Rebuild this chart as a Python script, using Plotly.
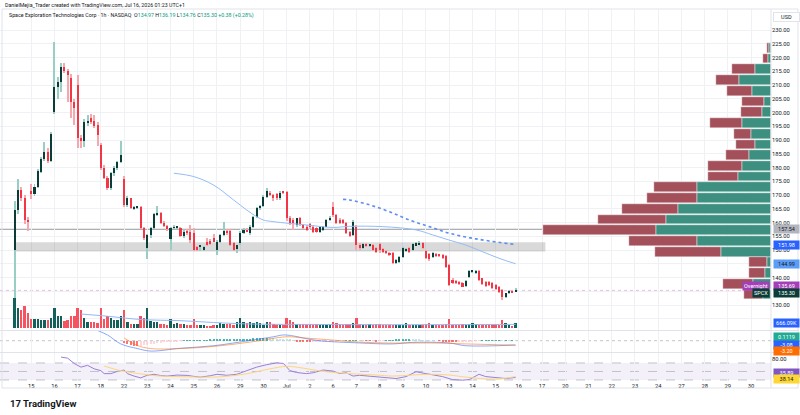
import plotly.graph_objects as go

W, H = 800, 415
PLOT_R = 771
GRID = "#eff1f4"

day_labels = ["15", "16", "17", "18", "22", "23", "24", "25", "26", "29", "30", "Jul", "2", "6", "7",
              "8", "9", "10", "13", "14", "15", "16", "17", "20", "21", "22", "23", "24", "27", "28",
              "29", "30"]

opens = [150.0, 164.5, 171.8, 169.0, 161.0, 171.5, 170.3, 173.0, 178.5, 183.0,
         185.7, 182.5, 200.3, 209.4, 211.0, 216.4, 215.0, 212.7, 204.0, 210.0,
         190.6, 189.5, 196.4, 198.0, 197.0, 195.5, 188.2, 180.0, 176.3, 172.7,
         177.9, 179.7, 181.9, 176.0, 166.4, 168.8, 165.2, 165.3, 165.6, 158.1,
         150.6, 155.5, 157.9, 163.0, 163.5, 160.0, 158.7, 154.0, 158.0, 158.2,
         157.9, 155.1, 157.0, 156.7, 156.1, 151.0, 151.0, 150.0, 153.0, 153.3,
         154.2, 150.0, 153.0, 155.5, 157.0, 157.0, 152.5, 150.5, 152.7, 156.3,
         157.3, 156.1, 158.5, 162.1, 165.2, 166.0, 169.4, 170.8, 170.0, 170.4,
         168.8, 171.1, 171.2, 161.5, 160.9, 159.1, 161.5, 159.1, 158.5, 159.6,
         158.5, 157.9, 156.7, 157.3, 158.5, 160.9, 165.5, 162.7, 160.8, 160.9,
         159.9, 156.7, 155.5, 158.5, 151.8, 150.6, 152.1, 151.5, 151.9, 150.6,
         152.1, 150.3, 149.6, 149.0, 148.8, 145.2, 145.7, 147.6, 149.8, 150.6,
         150.0, 151.8, 152.1, 152.4, 149.6, 148.4, 147.6, 148.4, 148.2, 148.2,
         147.9, 144.5, 139.1, 138.7, 138.3, 137.9, 137.0, 140.3, 142.0, 141.8,
         142.4, 139.7, 138.3, 138.3, 137.9, 137.3, 136.7, 135.5, 133.0, 134.2,
         135.1, 134.97]
highs = [168.0, 176.0, 173.0, 170.0, 162.0, 174.0, 174.0, 179.5, 184.0, 189.4,
         187.0, 193.0, 225.8, 213.0, 218.0, 218.0, 216.0, 214.0, 205.0, 213.6,
         192.0, 197.5, 199.0, 199.5, 199.0, 196.5, 189.0, 181.0, 177.0, 178.5,
         180.5, 182.5, 189.6, 177.0, 169.5, 169.0, 166.0, 166.0, 166.0, 158.5,
         156.0, 158.5, 163.5, 166.0, 164.0, 160.5, 159.0, 158.5, 159.0, 158.8,
         158.5, 157.5, 157.5, 159.0, 158.0, 151.5, 152.0, 151.3, 154.5, 154.0,
         156.0, 153.5, 155.8, 160.3, 157.5, 157.5, 153.0, 152.0, 156.8, 158.0,
         158.0, 159.0, 162.5, 165.5, 166.5, 170.0, 172.4, 171.5, 170.3, 170.8,
         171.3, 171.5, 171.5, 162.5, 161.5, 161.8, 162.0, 159.6, 159.0, 160.0,
         159.0, 158.3, 158.6, 158.9, 161.3, 162.2, 167.6, 163.0, 161.5, 161.2,
         160.3, 157.0, 161.0, 159.0, 152.5, 152.5, 152.4, 152.2, 152.3, 151.0,
         152.5, 150.8, 150.0, 149.4, 149.2, 146.8, 148.0, 151.0, 150.8, 151.0,
         152.4, 152.8, 153.3, 152.8, 150.0, 148.8, 149.2, 148.8, 148.6, 148.5,
         148.2, 145.0, 140.0, 139.2, 138.8, 138.3, 139.0, 142.6, 142.6, 142.6,
         142.8, 140.0, 138.6, 138.6, 138.2, 137.6, 137.0, 135.8, 134.5, 135.6,
         135.4, 136.19]
lows = [124.0, 163.0, 168.0, 159.5, 157.0, 168.5, 169.5, 172.5, 178.0, 182.5,
        181.5, 182.0, 199.5, 205.0, 207.6, 214.5, 204.0, 198.0, 195.5, 187.0,
        187.0, 187.5, 195.0, 196.0, 194.5, 188.0, 179.0, 176.0, 172.0, 172.0,
        177.0, 179.0, 181.5, 165.5, 165.8, 164.8, 164.6, 164.8, 157.5, 153.5,
        146.7, 154.5, 157.5, 162.5, 159.5, 158.3, 157.0, 150.0, 157.5, 157.6,
        154.8, 154.5, 155.5, 152.5, 149.5, 149.5, 149.5, 149.5, 151.5, 152.0,
        153.0, 148.2, 152.5, 155.0, 155.5, 151.5, 149.5, 149.0, 152.0, 156.0,
        156.5, 155.5, 158.0, 161.5, 164.5, 165.5, 169.0, 169.5, 168.0, 168.3,
        168.3, 170.5, 160.5, 159.0, 157.3, 158.5, 158.8, 157.5, 156.8, 157.8,
        156.3, 156.3, 156.3, 157.0, 158.2, 160.5, 162.0, 159.5, 159.5, 159.3,
        155.8, 154.8, 155.0, 150.0, 150.0, 150.2, 151.0, 151.0, 149.6, 149.0,
        149.0, 149.0, 148.5, 147.9, 144.8, 144.9, 145.3, 147.2, 149.3, 149.0,
        149.6, 151.5, 151.8, 150.3, 146.8, 146.0, 147.2, 147.6, 147.6, 146.9,
        143.6, 136.8, 137.5, 137.5, 137.2, 136.4, 136.6, 140.0, 141.5, 141.3,
        138.8, 137.2, 136.7, 137.0, 135.8, 135.5, 134.5, 131.8, 132.7, 133.9,
        134.3, 134.76]
closes = [164.5, 171.8, 169.0, 161.0, 160.3, 170.5, 173.0, 178.7, 183.0, 185.7,
          182.5, 192.2, 209.4, 211.0, 216.4, 215.0, 213.5, 204.0, 201.8, 190.6,
          189.5, 196.4, 197.0, 196.5, 195.2, 191.8, 180.0, 176.3, 172.7, 177.9,
          179.7, 181.9, 184.5, 166.4, 168.8, 165.2, 165.3, 165.6, 158.1, 154.2,
          155.5, 157.9, 163.0, 163.5, 160.0, 158.7, 157.5, 158.0, 158.2, 158.4,
          155.1, 156.7, 156.1, 153.6, 150.0, 150.0, 151.8, 151.0, 151.8, 152.2,
          153.0, 153.0, 155.5, 157.0, 156.3, 151.8, 150.0, 151.8, 156.3, 157.3,
          156.7, 158.5, 162.1, 165.2, 166.1, 169.4, 171.6, 170.0, 168.8, 168.8,
          170.8, 170.8, 161.5, 159.7, 159.9, 161.5, 159.3, 157.9, 157.3, 158.3,
          156.7, 156.7, 158.2, 158.5, 160.9, 161.8, 162.7, 159.9, 159.9, 159.7,
          156.1, 155.1, 160.3, 151.8, 150.6, 152.1, 151.5, 151.8, 150.0, 149.4,
          150.0, 149.4, 148.8, 148.2, 145.2, 146.4, 147.6, 150.6, 150.4, 149.4,
          152.1, 152.4, 152.7, 150.6, 147.2, 146.7, 148.8, 147.9, 147.9, 147.2,
          143.9, 137.3, 137.9, 137.9, 137.5, 136.7, 138.7, 142.2, 142.4, 142.4,
          139.1, 137.5, 137.0, 137.3, 136.1, 135.8, 134.8, 133.0, 134.2, 135.1,
          134.6, 135.30]
volumes_k = [3900, 2600, 2340, 2860, 1950, 1170, 1170, 1170, 1040, 1040,
             1040, 1300, 2600, 1560, 1560, 910, 1100, 1560, 1560, 2600,
             2340, 1300, 830, 830, 740, 600, 2600, 1170, 1560, 1300,
             1040, 1040, 1560, 2340, 830, 470, 470, 470, 1560, 1300,
             2600, 910, 830, 830, 470, 470, 380, 1210, 470, 600,
             470, 470, 380, 380, 1210, 380, 380, 380, 270, 270,
             380, 380, 600, 470, 470, 470, 380, 740, 1300, 740,
             600, 830, 600, 830, 600, 380, 830, 830, 470, 380,
             380, 380, 1300, 1070, 830, 470, 470, 470, 380, 470,
             380, 380, 380, 380, 380, 380, 830, 600, 470, 380,
             470, 470, 600, 1300, 470, 380, 380, 470, 380, 470,
             470, 380, 380, 380, 380, 380, 380, 380, 600, 380,
             380, 380, 380, 380, 470, 600, 380, 380, 380, 380,
             470, 1210, 380, 380, 380, 470, 380, 470, 600, 470,
             380, 380, 380, 380, 380, 470, 380, 1040, 600, 380,
             270, 666]

vol_ma_idx = [20, 28, 39, 49, 60, 71, 92, 114, 135, 151]
vol_ma_k = [1820, 1530, 1070, 975, 715, 520, 455, 430, 440, 470]

ma_idx = [48, 54, 60, 66, 70, 73, 75, 78, 88, 96, 101, 111, 121, 126, 131, 136, 141, 146, 151]
ma_val = [177.9, 176.7, 173.6, 168.2, 164.5, 162.1, 160.9, 160.3, 159.1, 158.2, 158.6, 158.5,
          157.3, 155.5, 153.6, 151.8, 149.4, 147.0, 144.99]
dot_idx = [99, 101, 107, 113, 119, 125, 131, 137, 143, 151]
dot_val = [168.4, 168.2, 166.4, 163.9, 160.9, 158.5, 156.1, 154.5, 153.3, 151.98]

vp_price = [133.8, 137.7, 141.6, 145.5, 149.4, 153.3, 157.2, 161.1, 165.0, 168.9, 172.8, 176.7,
            180.6, 184.5, 188.4, 192.3, 196.2, 200.1, 204.0, 207.9, 211.8, 215.7, 219.6, 223.5]
vp_up = [8.3, 18.3, 5.7, 4.3, 50, 74.3, 115, 105, 92.7, 74.3, 74, 32.7,
         29.3, 21.7, 16, 20, 29, 9.3, 7.3, 19.3, 31.7, 16, 2.7, 2]
vp_down = [18.4, 29.7, 16.6, 18, 65.7, 68, 113.3, 68.3, 56.3, 50, 43.3, 30.6,
           33.4, 23.3, 19, 16.7, 31.7, 20.7, 21.7, 24.7, 23.3, 23, 5, 2.3]

macd_idx = [25, 28, 32, 37, 41, 50, 60, 71, 78, 81, 84, 91, 104, 114, 120, 131, 136, 151]
macd_val = [7.3, 4.1, -2.3, -5.6, -7.4, -5.4, -3.6, 0.2, 2.8, 4.1, 3.4, 0.2, -1.6, -2.3, -1.2,
            -1.6, -3.6, -3.08]
signal_idx = [33, 37, 41, 50, 60, 71, 82, 87, 94, 104, 114, 125, 136, 151]
signal_val = [2.0, -3.4, -5.6, -5.6, -4.1, -1.0, 2.8, 2.0, 0.8, -1.0, -1.7, -1.6, -2.3, -3.2]
hist_start = 33
hist_val = [-1.5, -2.5, -3.0, -3.5, -3.8, -3.5, -3.2, -3.0, -2.5,
            -2.0, -1.6, -1.3, -1.0, -0.8, -0.6, -0.4, -0.3, -0.2,
            0.1, 0.2, 0.3, 0.3, 0.4, 0.4, 0.5, 0.5, 0.6, 0.6, 0.7, 0.8, 0.8, 0.9, 1.0, 1.0, 1.1,
            1.2, 1.3, 1.4, 1.5, 1.6, 1.6, 1.7, 1.8, 1.8, 1.7, 1.6, 1.5, 1.3, 1.2, 1.0,
            0.6, 0.2, -0.3, -0.6, -0.9, -1.0, -1.1, -1.0, -0.9, -0.8, -0.7, -0.6, -0.5,
            -0.4, -0.3, -0.2, -0.1, 0.1, 0.2, 0.3, 0.3, 0.2, 0.1, -0.1, -0.2, -0.2, -0.3, -0.2, -0.1, 0.1,
            0.3, 0.5, 0.6, 0.8, 0.9, 1.0, 1.0, 0.9, 0.8, 0.7, 0.5, 0.4, 0.2, 0.1, 0.0,
            -0.2, -0.4, -0.6, -0.8, -0.9, -1.0, -1.0, -0.9, -0.8, -0.6, -0.4, -0.2, -0.1,
            0.1, 0.2, 0.3, 0.3, 0.4, 0.4, 0.3, 0.3, 0.2, 0.2, 0.11]

rsi_idx = [14, 16, 18, 20, 22, 24, 26, 27, 29, 31, 33, 34, 36, 38, 40, 42, 44, 46, 49, 52, 54,
           56, 59, 61, 64, 67, 70, 73, 76, 79, 81, 82, 83, 85, 88, 90, 93, 96, 98, 100, 102, 104,
           107, 110, 113, 115, 118, 121, 124, 126, 129, 132, 135, 137, 139, 140, 142, 145, 148, 151]
rsi_val = [83.9, 81.3, 68.6, 60.3, 64.4, 56.2, 52.0, 45.0, 45.0, 50.2, 53.5, 45.0, 39.2, 35.0,
           41.0, 43.4, 40.5, 39.2, 41.5, 40.8, 38.5, 36.7, 40.0, 43.4, 41.0, 43.4, 52.0, 60.3, 66.0,
           70.2, 69.0, 60.3, 52.0, 47.6, 45.0, 47.0, 53.5, 51.0, 45.0, 47.0, 39.2, 41.0, 39.2, 37.0,
           35.5, 33.4, 38.0, 49.4, 45.0, 41.7, 38.0, 30.9, 29.5, 30.9, 39.0, 43.4, 38.0, 35.0, 33.5,
           35.89]
rsi_ma_idx = [27, 32, 39, 44, 52, 60, 69, 77, 82, 87, 93, 101, 109, 114, 120, 125, 131, 136, 145, 151]
rsi_ma_val = [62.7, 51.9, 43.4, 39.2, 37.5, 36.7, 43.4, 56.2, 62.1, 57.9, 50.2, 45.0, 41.7, 39.2,
              41.7, 43.4, 41.7, 36.7, 32.0, 38.14]

price_ticks = list(range(125, 235, 5))
hidden_price_ticks = [125, 135, 145]  # covered by value labels in the reference


def py(p):
    return 1 - p / H


UP_BODY, UP_WICK = "#0c3c37", "#98cec4"
DN_BODY, DN_WICK = "#f23645", "#f7a8ae"
VOL_UP, VOL_DN = "#12615a", "#f7525f"

n = len(closes)
idx = list(range(n))
is_up = [c >= o for o, c in zip(opens, closes)]

fig = go.Figure()

# volume
fig.add_trace(go.Bar(x=idx, y=volumes_k, yaxis="y2", width=0.72,
                     marker=dict(color=[VOL_UP if u else VOL_DN for u in is_up], line_width=0)))
fig.add_trace(go.Scatter(x=vol_ma_idx, y=vol_ma_k, yaxis="y2", mode="lines",
                         line=dict(color="#8fb9f7", width=1, shape="spline")))

# candles: wicks then bodies
fig.add_trace(go.Bar(x=idx, y=[h - l for h, l in zip(highs, lows)], base=lows, width=0.3,
                     marker=dict(color=[UP_WICK if u else DN_WICK for u in is_up], line_width=0)))
fig.add_trace(go.Bar(x=idx, y=[max(abs(c - o), 0.35) for o, c in zip(opens, closes)],
                     base=[min(o, c) for o, c in zip(opens, closes)], width=0.62,
                     marker=dict(color=[UP_BODY if u else DN_BODY for u in is_up], line_width=0)))

# moving averages
fig.add_trace(go.Scatter(x=ma_idx, y=ma_val, mode="lines",
                         line=dict(color="#93bdf8", width=1, shape="spline")))
fig.add_trace(go.Scatter(x=dot_idx, y=dot_val, mode="lines",
                         line=dict(color="#5d8ef0", width=1.6, dash="dot", shape="spline")))

# volume profile
fig.add_trace(go.Bar(y=vp_price, x=vp_up, base=[0] * len(vp_up), orientation="h", xaxis="x2",
                     yaxis="y", width=3.55, marker=dict(color="#3d8f80", line=dict(color="#ffffff", width=0.4))))
fig.add_trace(go.Bar(y=vp_price, x=vp_down, base=vp_up, orientation="h", xaxis="x2",
                     yaxis="y", width=3.55, marker=dict(color="#a3505b", line=dict(color="#ffffff", width=0.4))))

# MACD
hist_idx = list(range(hist_start, hist_start + len(hist_val)))
hcol = []
prev = 0
for v in hist_val:
    if v >= 0:
        hcol.append("#26a69a" if v >= prev else "#b2dfdb")
    else:
        hcol.append("#ff5252" if v < prev else "#ffcdd2")
    prev = v
fig.add_trace(go.Bar(x=hist_idx, y=hist_val, yaxis="y3", width=0.62,
                     marker=dict(color=hcol, line_width=0), opacity=0.8))
fig.add_trace(go.Scatter(x=macd_idx, y=macd_val, yaxis="y3", mode="lines",
                         line=dict(color="rgba(41,98,255,0.55)", width=1, shape="spline")))
fig.add_trace(go.Scatter(x=signal_idx, y=signal_val, yaxis="y3", mode="lines",
                         line=dict(color="rgba(255,109,0,0.55)", width=1, shape="spline")))

# RSI
fig.add_trace(go.Scatter(x=rsi_idx, y=rsi_val, yaxis="y4", mode="lines",
                         line=dict(color="#9c7fd6", width=1)))
fig.add_trace(go.Scatter(x=rsi_ma_idx, y=rsi_ma_val, yaxis="y4", mode="lines",
                         line=dict(color="#fbd77a", width=1, shape="spline")))

shapes = [
    dict(type="rect", xref="x", yref="y", x0=0.1, x1=160, y0=149.5, y1=152.8,
         fillcolor="rgba(0,0,0,0.15)", line_width=0, layer="between"),
    dict(type="line", xref="paper", yref="y", x0=0, x1=1, y0=157.54, y1=157.54,
         line=dict(color="#9598a1", width=1), layer="between"),
    dict(type="line", xref="paper", yref="y", x0=0, x1=1, y0=135.3, y1=135.3,
         line=dict(color="#e9bde3", width=1, dash="dot"), layer="between"),
    dict(type="line", xref="paper", yref="y3", x0=0, x1=1, y0=0, y1=0,
         line=dict(color="#b2b5be", width=0.8, dash="dot"), layer="below"),
    dict(type="rect", xref="paper", yref="y4", x0=0, x1=1, y0=30, y1=70,
         fillcolor="rgba(126,87,194,0.09)", line_width=0, layer="below"),
]
for lvl in (70, 50, 30):
    shapes.append(dict(type="line", xref="paper", yref="y4", x0=0, x1=1, y0=lvl, y1=lvl,
                       line=dict(color="#b2b5be", width=0.8, dash="dash"), layer="below"))
for sep in (330.5, 352.5):
    shapes.append(dict(type="line", xref="paper", yref="paper", x0=0, x1=799 / PLOT_R,
                       y0=py(sep), y1=py(sep), line=dict(color="#e0e3eb", width=1)))
shapes.append(dict(type="rect", xref="paper", yref="paper", x0=2 / PLOT_R, x1=798 / PLOT_R,
                   y0=py(388), y1=py(9), line=dict(color="#e0e3eb", width=1), fillcolor="rgba(0,0,0,0)"))
shapes.append(dict(type="line", xref="paper", yref="paper", x0=1, x1=1, y0=py(388), y1=py(9),
                   line=dict(color="#e0e3eb", width=1)))

ann = []


def box(text, y, bg, fg="#ffffff", yref="paper", border=None):
    d = dict(text=text, x=1 + 2 / PLOT_R, xref="paper", xanchor="left", y=y, yref=yref,
             yanchor="middle", showarrow=False, font=dict(size=5.5, color=fg), bgcolor=bg,
             borderpad=1, width=23, align="center")
    if border:
        d["bordercolor"] = border
        d["borderwidth"] = 1
    ann.append(d)


box("USD", py(17), "#ffffff", "#131722", border="#e0e3eb")
box("157.54", 157.54, "#b2b5be", "#131722", yref="y")
box("151.98", 151.98, "#2962ff", yref="y")
box("144.99", 144.99, "#5b9cf6", "#131722", yref="y")
box("135.69", py(286), "#a43fb9")
box("135.30", py(293), "#0c3c37")
box("666.09K", py(323), "#2962ff")
box("0.1119", py(337), "#22ab94")
box("-3.08", py(344.5), "#2962ff")
box("-3.20", py(350.5), "#ff6d00")
box("35.89", py(373), "#7e57c2")
box("38.14", py(378.5), "#fdd835", "#131722")

for txt, ypx, bg, xr in (("Overnight", 286, "#a43fb9", 770), ("SPCX", 293, "#0c3c37", 770)):
    ann.append(dict(text=txt, x=xr / PLOT_R, xref="paper", xanchor="right", y=py(ypx), yref="paper",
                    yanchor="middle", showarrow=False, font=dict(size=5.5, color="#ffffff"),
                    bgcolor=bg, borderpad=1))

ann.append(dict(text="DanielMejia_Trader created with TradingView.com, Jul 16, 2026 01:23 UTC+1",
                x=3 / PLOT_R, xref="paper", xanchor="left", y=py(5), yref="paper", yanchor="middle",
                showarrow=False, font=dict(size=5.3, color="#131722")))
g = "#089981"
ann.append(dict(text=("Space Exploration Technologies Corp · 1h · NASDAQ  "
                      f"O<span style='color:{g}'>134.97</span> H<span style='color:{g}'>136.19</span> "
                      f"L<span style='color:{g}'>134.76</span> C<span style='color:{g}'>135.30</span> "
                      f"<span style='color:{g}'>+0.38 (+0.28%)</span>"),
                x=7 / PLOT_R, xref="paper", xanchor="left", y=py(16), yref="paper", yanchor="middle",
                showarrow=False, font=dict(size=5.3, color="#131722")))
ann.append(dict(text="<b>17 TradingView</b>", x=8 / PLOT_R, xref="paper", xanchor="left", y=py(403),
                yref="paper", yanchor="middle", showarrow=False,
                font=dict(size=9.5, color="#131722")))

fig.update_layout(
    width=W, height=H, margin=dict(l=0, r=W - PLOT_R, t=0, b=0),
    paper_bgcolor="white", plot_bgcolor="white", barmode="overlay", bargap=0,
    showlegend=False, font=dict(family="Roboto, Arial, sans-serif", color="#131722"),
    xaxis=dict(domain=[0, 1], range=[-4.4, 228], anchor="y4",
               tickvals=[5 + 7 * k for k in range(len(day_labels))],
               ticktext=day_labels, showgrid=True, gridcolor=GRID, gridwidth=1, zeroline=False,
               showline=False, ticks="", tickfont=dict(size=5.8, color="#131722")),
    xaxis2=dict(overlaying="x", range=[PLOT_R, 0], visible=False, anchor="y"),
    yaxis=dict(domain=[py(330), py(9)], range=[230 - 300 / 2.75, 230 + 21 / 2.75], side="right",
               anchor="x", tickvals=price_ticks,
               ticktext=["" if v in hidden_price_ticks else f"{v:.2f}" for v in price_ticks],
               showgrid=True, gridcolor=GRID, zeroline=False, showline=False, ticks="",
               tickfont=dict(size=5.8, color="#131722")),
    yaxis2=dict(overlaying="y", range=[-260, 41470], visible=False),
    yaxis3=dict(domain=[py(352), py(331)], range=[-8.07, 6.93], anchor="x", side="right",
                showticklabels=False, showgrid=False, zeroline=False, ticks=""),
    yaxis4=dict(domain=[py(381), py(353)], range=[27.6, 93.5], anchor="x", side="right",
                tickvals=[80], ticktext=["80.00"], showgrid=False, zeroline=False, ticks="",
                tickfont=dict(size=5.8, color="#131722")),
    shapes=shapes, annotations=ann,
)

fig.write_html("out.html")
